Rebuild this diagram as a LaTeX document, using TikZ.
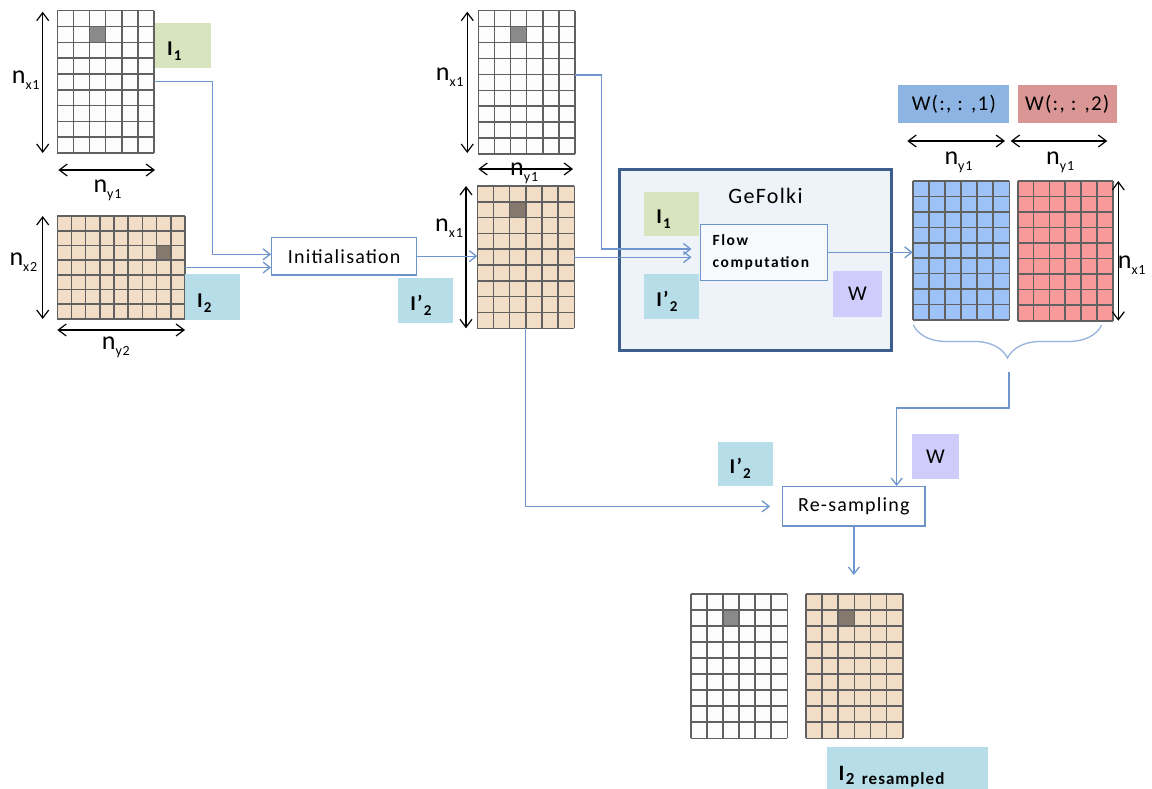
\documentclass[tikz,border=0pt]{standalone}
\usepackage{fontspec}
\setmainfont{Carlito}[LetterSpace=6]
\usetikzlibrary{arrows.meta,calc,decorations.pathreplacing}

\definecolor{connblue}{HTML}{6F96CF}
\definecolor{boxblue}{HTML}{6C93CA}
\definecolor{gfframe}{HTML}{3B5E8C}
\definecolor{gffill}{HTML}{EEF3F9}
\definecolor{tagI}{HTML}{D7E4BD}
\definecolor{tagB}{HTML}{B7DEE8}
\definecolor{tagW}{HTML}{CFCBFB}
\definecolor{tagWa}{HTML}{8EB4E3}
\definecolor{tagWb}{HTML}{D99694}
\definecolor{pixbeige}{HTML}{F2DEC6}
\definecolor{pixwhite}{HTML}{FCFCFC}
\definecolor{pixblue}{HTML}{9CC2F7}
\definecolor{pixred}{HTML}{F99A9A}
\definecolor{bracec}{HTML}{95B3DE}

% image label: bold letter with a lowered index
\newcommand\imlbl[2]{\textbf{#1}\raisebox{-5pt}{\fontsize{15}{15}\selectfont\bfseries #2}}
% size label n with index
\newcommand\dimtxt[1]{{\fontsize{26}{26}\selectfont n}\raisebox{-6pt}{\fontsize{14}{14}\selectfont #1}}

% pixel grid: name, x, y, width, height, columns, rows, fill, dark cell (col/row or empty)
\newcommand\mkgrid[9]{%
  \node[gridframe, fill=#8, minimum width=#4pt, minimum height=#5pt] (#1) at (#2,#3) {};
  \if\relax\detokenize{#9}\relax\else
    \foreach \cc/\rr in {#9}{%
      \fill[darkpix] ([shift={(\cc*#4/#6,\rr*#5/#7)}]#1.north west) rectangle ++(#4/#6,#5/#7);}
  \fi
  \foreach \k in {0,...,#6}{%
    \draw[gridline] ($(#1.north west)!\k/#6!(#1.north east)$) -- ($(#1.south west)!\k/#6!(#1.south east)$);}
  \foreach \k in {0,...,#7}{%
    \draw[gridline] ($(#1.north west)!\k/#7!(#1.south west)$) -- ($(#1.north east)!\k/#7!(#1.south east)$);}
}

\begin{document}
\begin{tikzpicture}[x=1pt,y=-1pt,
  gridframe/.style={draw=none, inner sep=0pt, outer sep=0pt, anchor=north west},
  gridline/.style={draw=black!62, line width=1.6pt},
  darkpix/.style={fill=black, fill opacity=0.45},
  conn/.style={draw=connblue, line width=1.3pt},
  connarrow/.style={conn, -{Straight Barb[length=7pt,width=11pt]}},
  dimarrow/.style={draw=black, line width=1.2pt,
    {Straight Barb[length=8pt,width=12pt]}-{Straight Barb[length=8pt,width=12pt]}},
  proc/.style={draw=boxblue, line width=1.3pt, fill=white, inner sep=0pt,
    font=\fontsize{20}{24}\selectfont},
  tag/.style={inner ysep=0pt, inner xsep=12pt, outer sep=0pt, anchor=north west,
    text height=20pt, text depth=0pt, font=\fontsize{21}{24}\selectfont},
  wtag/.style={inner sep=0pt, outer sep=0pt, anchor=north west,
    font=\fontsize{21}{24}\selectfont},
  dimlbl/.style={anchor=base west, inner sep=0pt},
  bracestyle/.style={draw=bracec, line width=1.3pt, decorate,
    decoration={brace, amplitude=33pt}}
]
\useasboundingbox (0,0) rectangle (1152,789);
\clip (0,0) rectangle (1152,789);
\fill[white] (0,0) rectangle (1152,789);

% ---- input images
\mkgrid{gI1}{57.3}{10.7}{96.7}{142.3}{6}{9}{pixwhite}{2/1}
\mkgrid{gI2}{57.3}{216}{127.7}{103}{9}{7}{pixbeige}{7/2}
\node[tag, fill=tagI, text width=31.7pt, minimum height=45.6pt] (tI1) at (155,22.7) {\imlbl{I}{1}};
\node[tag, fill=tagB, text width=31pt, minimum height=46pt] (tI2) at (185,274) {\imlbl{I}{2}};

\draw[dimarrow] ([shift={(-14.6,1)}]gI1.north west) -- ([shift={(-14.6,0)}]gI1.south west);
\draw[dimarrow] ([shift={(1,17)}]gI1.south west) -- ([shift={(1,17)}]gI1.south east);
\draw[dimarrow] ([shift={(-14.6,0)}]gI2.north west) -- ([shift={(-14.6,0)}]gI2.south west);
\draw[dimarrow] ([shift={(0,11)}]gI2.south west) -- ([shift={(0,11)}]gI2.south east);
\node[dimlbl] (dx1) at (11.7,83.3) {\dimtxt{x1}};
\node[dimlbl] (dy1) at (93.3,192.7) {\dimtxt{y1}};
\node[dimlbl] (dx2) at (9.3,265) {\dimtxt{x2}};
\node[dimlbl] (dy2) at (101.7,349.3) {\dimtxt{y2}};

% ---- initialisation
\node[proc, minimum width=145pt, minimum height=37.7pt] (init) at (344.2,256.15) {Initialisation};

% ---- images after initialisation
\mkgrid{gI1b}{478.3}{10.7}{96.7}{143.3}{6}{9}{pixwhite}{2/1}
\mkgrid{gI2p}{477.3}{186}{97}{142.3}{6}{9}{pixbeige}{2/1}
\node[tag, fill=tagB, text width=30.4pt, minimum height=45pt] (tI2p) at (398.3,278.3) {\imlbl{I’}{2}};
\draw[dimarrow] ([shift={(-11,1)}]gI1b.north west) -- ([shift={(-11,-1)}]gI1b.south west);
\draw[dimarrow] ([shift={(0,15)}]gI1b.south west) -- ([shift={(-2,15)}]gI1b.south east);
\draw[dimarrow] ([shift={(-11.3,0)}]gI2p.north west) -- ([shift={(-11.3,0)}]gI2p.south west);
\node[dimlbl] (dx1b) at (435.7,81) {\dimtxt{x1}};
\node[dimlbl] (dy1b) at (510,175.5) {\dimtxt{y1}};
\node[dimlbl] (dx1c) at (435,231.7) {\dimtxt{x1}};

% ---- GeFolki block
\node[draw=gfframe, line width=3pt, fill=gffill, minimum width=272pt, minimum height=180.4pt,
  inner sep=0pt] (gef) at (755.8,260) {};
\node[font=\fontsize{22}{26}\selectfont, inner sep=0pt] (geft) at (765.5,196) {GeFolki};
\node[tag, fill=tagI, text width=31pt, minimum height=44.3pt] (tI1g) at (644.3,191.7) {\imlbl{I}{1}};
\node[tag, fill=tagB, text width=31pt, minimum height=44.7pt] (tI2g) at (644.3,274.3) {\imlbl{I’}{2}};
\node[wtag, fill=tagW, minimum width=48.4pt, minimum height=45.7pt] (tWg) at (833.3,271) {W};
\node[draw=boxblue, line width=1pt, fill=white!55!gffill, inner xsep=12.7pt, inner ysep=0pt,
  text width=101.9pt, minimum height=56.7pt, align=left,
  font=\fontsize{15.5}{22}\selectfont\bfseries\addfontfeatures{LetterSpace=10}] (flow)
  at (763.65,252.35) {Flow\\computation};

% ---- flow field
\mkgrid{gW1}{912.7}{181}{96.6}{139}{6}{9}{pixblue}{}
\mkgrid{gW2}{1017.7}{181}{95}{139.7}{6}{9}{pixred}{}
\node[wtag, fill=tagWa, minimum width=111pt, minimum height=37.7pt] (tW1) at (898.3,85) {W(:, : ,1)};
\node[wtag, fill=tagWb, minimum width=99pt, minimum height=37.7pt] (tW2) at (1017.7,85) {W(:, : ,2)};
\draw[dimarrow] ([shift={(-5.4,-40)}]gW1.north west) -- ([shift={(-4.3,-40)}]gW1.north east);
\draw[dimarrow] ([shift={(-7,-40)}]gW2.north west) -- ([shift={(-5.4,-40)}]gW2.north east);
\draw[dimarrow] ([shift={(5.6,0)}]gW2.north east) -- ([shift={(5.6,0)}]gW2.south east);
\node[dimlbl] (dy1w) at (944.3,164.3) {\dimtxt{y1}};
\node[dimlbl] (dy1r) at (1046,164.3) {\dimtxt{y1}};
\node[dimlbl] (dx1w) at (1117.7,268.3) {\dimtxt{x1}};
\draw[bracestyle] (1101.7,325) -- (913.3,325);

% ---- resampling
\node[proc, minimum width=142.3pt, minimum height=39.3pt] (rs) at (853.85,506.35) {Re-sampling};
\node[tag, fill=tagB, text width=31pt, minimum height=44.3pt] (tI2r) at (717.7,441.7) {\imlbl{I’}{2}};
\node[wtag, fill=tagW, minimum width=47.6pt, minimum height=45pt] (tWr) at (911.7,434) {W};

\mkgrid{gR1}{690.7}{594}{96.6}{144.3}{6}{9}{pixwhite}{2/1}
\mkgrid{gR2}{806}{594}{96.7}{144.3}{6}{9}{pixbeige}{2/1}
\node[tag, fill=tagB, text width=137pt, minimum height=54pt, text height=14pt,
  font=\fontsize{22}{24}\selectfont] (tI2res) at (826.7,746.7)
  {\textbf{I}\raisebox{-4pt}{\fontsize{17}{17}\selectfont\bfseries 2 resampled}};

% ---- connectors
\coordinate (j1) at (212.7,254.3);
\coordinate (j2) at (601.7,249);
\coordinate (g1out) at ($(gI1b.north east)!0.449!(gI1b.south east)$);
\coordinate (bstart) at (1009,372);
\coordinate (bturn) at (896.7,408);
\draw[connarrow] (gI1.east) -| (j1) -- (j1 -| init.west);
\draw[connarrow] (gI2.east) -- (gI2.east -| init.west);
\draw[connarrow] (init.east) -- (init.east -| gI2p.west);
\draw[connarrow, shorten >=8pt] (g1out) -| (j2) -- (j2 -| flow.west);
\draw[connarrow, shorten >=8pt] (gI2p.east) -- (gI2p.east -| flow.west);
\draw[connarrow] (flow.east) -- (flow.east -| gW1.west);
\draw[connarrow] (bstart) |- (bturn) -- (bturn |- rs.north);
\draw[connarrow, shorten >=12pt] (gI2p.south) |- (rs.west);
\draw[connarrow, shorten >=19pt] (rs.south) -- (rs.south |- gR2.north);
\end{tikzpicture}
\end{document}
